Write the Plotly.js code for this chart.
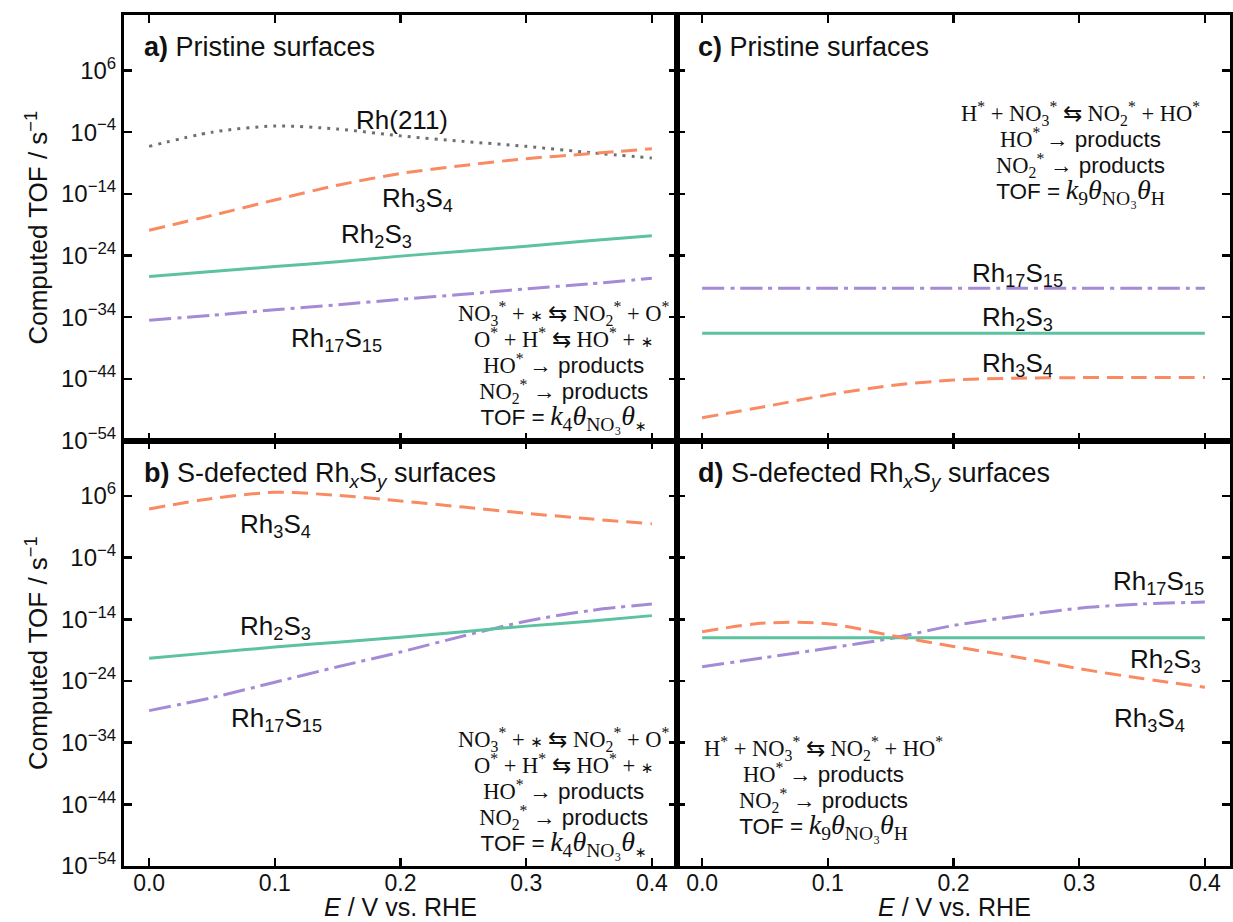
<!DOCTYPE html>
<html>
<head>
<meta charset="utf-8">
<script src="https://cdn.plot.ly/plotly-3.0.1.min.js"></script>
<style>html,body{margin:0;padding:0;background:#fff;}#chart{width:1233px;height:922px;}</style>
</head>
<body>
<div id="chart"></div>
<script>
// ---------- data (log-scale TOF values in s^-1) ----------
const E = [0.00, 0.05, 0.10, 0.15, 0.20, 0.25, 0.30, 0.35, 0.40];

// a) Pristine surfaces, mechanism with k4
const a_Rh211   = [5.0e-7, 1.0e-4, 1.0e-3, 3.2e-4, 2.5e-5, 3.2e-6, 5.0e-7, 5.0e-8, 6.3e-9];
const a_Rh3S4   = [1.26e-20, 3.16e-18, 1.0e-15, 2.51e-13, 2.0e-11, 3.98e-10, 5.0e-9, 3.16e-8, 2.0e-7];
const a_Rh2S3   = [3.98e-28, 2.51e-27, 1.58e-26, 1.0e-25, 7.94e-25, 5.0e-24, 3.16e-23, 2.51e-22, 1.58e-21];
const a_Rh17S15 = [3.16e-35, 2.0e-34, 1.58e-33, 1.0e-32, 7.94e-32, 5.0e-31, 3.98e-30, 2.51e-29, 2.0e-28];

// b) S-defected surfaces, mechanism with k4
const b_Rh3S4   = [7.94e3, 3.98e5, 3.98e6, 1.26e6, 1.58e5, 1.58e4, 1.58e3, 2.0e2, 31.6];
const b_Rh2S3   = [5.0e-21, 3.98e-20, 3.16e-19, 2.0e-18, 1.26e-17, 1.0e-16, 7.94e-16, 5.0e-15, 3.98e-14];
const b_Rh17S15 = [1.58e-29, 2.0e-27, 6.31e-25, 2.0e-22, 5.0e-20, 2.0e-17, 5.0e-15, 2.51e-13, 3.16e-12];

// c) Pristine surfaces, mechanism with k9
const c_Rh17S15 = [5.0e-30, 5.0e-30, 5.0e-30, 5.0e-30, 5.0e-30, 5.0e-30, 5.0e-30, 5.0e-30, 5.0e-30];
const c_Rh2S3   = [2.51e-37, 2.51e-37, 2.51e-37, 2.51e-37, 2.51e-37, 2.51e-37, 2.51e-37, 2.51e-37, 2.51e-37];
const c_Rh3S4   = [5.0e-51, 3.16e-49, 2.51e-47, 7.94e-46, 6.31e-45, 1.26e-44, 1.58e-44, 1.58e-44, 1.58e-44];

// d) S-defected surfaces, mechanism with k9
const d_Rh17S15 = [2.0e-22, 6.31e-21, 2.0e-19, 7.94e-18, 1.0e-15, 3.16e-14, 6.31e-13, 3.16e-12, 6.31e-12];
const d_Rh2S3   = [1.0e-17, 1.0e-17, 1.0e-17, 1.0e-17, 1.0e-17, 1.0e-17, 1.0e-17, 1.0e-17, 1.0e-17];
const d_Rh3S4   = [1.0e-16, 2.51e-15, 2.0e-15, 2.51e-17, 3.98e-19, 7.94e-21, 1.0e-22, 2.51e-24, 1.0e-25];

// ticks
const xTickVals = [0, 0.1, 0.2, 0.3, 0.4];
const xTickText = ['0.0', '0.1', '0.2', '0.3', '0.4'];
const yTickVals = [1e6, 1e-4, 1e-14, 1e-24, 1e-34, 1e-44, 1e-54];
const yTickText = ['10<sup>6</sup>', '10<sup>−4</sup>', '10<sup>−14</sup>', '10<sup>−24</sup>',
                   '10<sup>−34</sup>', '10<sup>−44</sup>', '10<sup>−54</sup>'];

// labels
const panelTitles = ['<b>a)</b> Pristine surfaces',
                     '<b>b)</b> S-defected Rh<sub><i>x</i></sub>S<sub><i>y</i></sub> surfaces',
                     '<b>c)</b> Pristine surfaces',
                     '<b>d)</b> S-defected Rh<sub><i>x</i></sub>S<sub><i>y</i></sub> surfaces'];
const xTitle = '<i>E</i> / V vs. RHE';
const yTitle = 'Computed TOF / s<sup>−1</sup>';
const nameRh211 = 'Rh(211)';
const nameRh3S4 = 'Rh<sub>3</sub>S<sub>4</sub>';
const nameRh2S3 = 'Rh<sub>2</sub>S<sub>3</sub>';
const nameRh17S15 = 'Rh<sub>17</sub>S<sub>15</sub>';
const SANS = 'font-family:Liberation Sans';
const STAR = '<span style="font-family:DejaVu Sans;font-size:15px">∗</span>';
const SUBSTAR = '<span style="font-family:DejaVu Sans;font-size:14px">∗</span>';
const MATH = 'font-size:28px';
const mechK4 = [
  'NO<sub>3</sub><sup>*</sup> + ' + STAR + ' ⇆ NO<sub>2</sub><sup>*</sup> + O<sup>*</sup>',
  'O<sup>*</sup> + H<sup>*</sup> ⇆ HO<sup>*</sup> + ' + STAR,
  'HO<sup>*</sup> <span style="' + SANS + '">→ products</span>',
  'NO<sub>2</sub><sup>*</sup> <span style="' + SANS + '">→ products</span>',
  '<span style="' + SANS + '">TOF =</span> <span style="' + MATH + '"><i>k</i><sub>4</sub><i>θ</i><sub>NO₃</sub><i>θ</i><sub>' + SUBSTAR + '</sub></span>'
];
const mechK9 = [
  'H<sup>*</sup> + NO<sub>3</sub><sup>*</sup> ⇆ NO<sub>2</sub><sup>*</sup> + HO<sup>*</sup>',
  'HO<sup>*</sup> <span style="' + SANS + '">→ products</span>',
  'NO<sub>2</sub><sup>*</sup> <span style="' + SANS + '">→ products</span>',
  '<span style="' + SANS + '">TOF =</span> <span style="' + MATH + '"><i>k</i><sub>9</sub><i>θ</i><sub>NO₃</sub><i>θ</i><sub>H</sub></span>'
];
// one text block per mechanism: base size sets the line pitch, span sets glyph size
function block(lines) {
  return lines.map(function (l) { return '<span style="font-size:22.5px">' + l + '</span>'; }).join('<br>');
}

// ---------- styles ----------
const ORANGE = '#f98a62', GREEN = '#5cc29f', PURPLE = '#a58ad6', GREY = '#6f6f6f';
const st = {
  Rh211:   {color: GREY,   width: 3, dash: '3px,6px'},
  Rh3S4:   {color: ORANGE, width: 3, dash: '16px,8px'},
  Rh2S3:   {color: GREEN,  width: 3},
  Rh17S15: {color: PURPLE, width: 3, dash: '22px,6px,4px,6px'}
};
function tr(y, style, xa, ya) {
  return {x: E, y: y, type: 'scatter', mode: 'lines', xaxis: xa, yaxis: ya,
          line: Object.assign({shape: 'spline', smoothing: 0.8}, style), hoverinfo: 'skip'};
}
const data = [
  tr(a_Rh211, st.Rh211, 'x', 'y'),
  tr(a_Rh17S15, st.Rh17S15, 'x', 'y'),
  tr(a_Rh2S3, st.Rh2S3, 'x', 'y'),
  tr(a_Rh3S4, st.Rh3S4, 'x', 'y'),
  tr(b_Rh17S15, st.Rh17S15, 'x2', 'y2'),
  tr(b_Rh2S3, st.Rh2S3, 'x2', 'y2'),
  tr(b_Rh3S4, st.Rh3S4, 'x2', 'y2'),
  tr(c_Rh17S15, st.Rh17S15, 'x3', 'y3'),
  tr(c_Rh2S3, st.Rh2S3, 'x3', 'y3'),
  tr(c_Rh3S4, st.Rh3S4, 'x3', 'y3'),
  tr(d_Rh17S15, st.Rh17S15, 'x4', 'y4'),
  tr(d_Rh2S3, st.Rh2S3, 'x4', 'y4'),
  tr(d_Rh3S4, st.Rh3S4, 'x4', 'y4')
];

// ---------- layout ----------
const W = 1233, H = 922, ML = 124, MR = 3, MT = 15, MB = 56;
const PW = W - ML - MR, PH = H - MT - MB;
function px(x) { return (x - ML) / PW; }
function py(y) { return (H - MB - y) / PH; }
const SANSFONT = 'Liberation Sans, Arial, sans-serif';

const TICKFONT = {family: SANSFONT, size: 24, color: '#111'};
function xax(dom, anchor, labels) {
  return {domain: dom, anchor: anchor, range: [-0.02, 0.42], tickmode: 'array',
    tickvals: xTickVals, ticktext: xTickText, ticks: 'inside', ticklen: 8, tickwidth: 2.5,
    tickcolor: '#000', showline: true, linewidth: 3, linecolor: '#000', mirror: 'ticks',
    showgrid: false, zeroline: false, showticklabels: labels, tickfont: {family: SANSFONT, size: 23, color: '#111'},
    ticklabelposition: 'outside', ticklabelstandoff: -6, fixedrange: true};
}
function yax(dom, anchor, labels) {
  const o = {domain: dom, anchor: anchor, type: 'log', range: [-54, 15], tickmode: 'array',
    tickvals: yTickVals, ticktext: yTickText, ticks: 'inside', ticklen: 8, tickwidth: 2.5,
    tickcolor: '#000', showline: true, linewidth: 3, linecolor: '#000', mirror: 'ticks',
    showgrid: false, zeroline: false, showticklabels: labels, tickfont: TICKFONT, fixedrange: true};
  if (labels) o.title = {text: yTitle, font: {family: SANSFONT, size: 26, color: '#111'}, standoff: 6};
  return o;
}

const annotations = [];
function ann(text, x, y, opt) {
  annotations.push(Object.assign({text: text, xref: 'paper', yref: 'paper', x: px(x), y: py(y),
    showarrow: false, xanchor: 'center', yanchor: 'middle',
    font: {family: SANSFONT, size: 26, color: '#111'}}, opt || {}));
}
// x axis titles (below the bottom panels)
const XTF = {family: SANSFONT, size: 25, color: '#111'};
ann(xTitle, 400, 922, {yanchor: 'bottom', borderpad: 0, font: XTF});
ann(xTitle, 954, 922, {yanchor: 'bottom', borderpad: 0, font: XTF});
// panel titles
const TFONT = {family: SANSFONT, size: 27, color: '#111'};
ann(panelTitles[0], 142, 47, {xanchor: 'left', font: TFONT});
ann(panelTitles[1], 142, 475, {xanchor: 'left', font: TFONT});
ann(panelTitles[2], 696, 47, {xanchor: 'left', font: TFONT});
ann(panelTitles[3], 696, 475, {xanchor: 'left', font: TFONT});
// curve labels
ann(nameRh211, 402, 120);
ann(nameRh3S4, 417, 199);
ann(nameRh2S3, 376, 236);
ann(nameRh17S15, 336, 339);
ann(nameRh3S4, 275, 525);
ann(nameRh2S3, 275, 627);
ann(nameRh17S15, 276, 719);
ann(nameRh17S15, 1017, 274);
ann(nameRh2S3, 1017, 319);
ann(nameRh3S4, 1017, 364);
ann(nameRh17S15, 1158, 582);
ann(nameRh2S3, 1165, 660);
ann(nameRh3S4, 1149, 719);
// mechanism blocks
const SERIF = {family: 'Liberation Serif, Times New Roman, serif', size: 20, color: '#111'};
ann(block(mechK4), 563, 366, {font: SERIF, align: 'center'});
ann(block(mechK4), 563, 792, {font: SERIF, align: 'center'});
ann(block(mechK9), 1080, 154, {font: SERIF, align: 'center'});
ann(block(mechK9), 823, 788, {font: SERIF, align: 'center'});

const layout = {
  width: W, height: H, margin: {l: ML, r: MR, t: MT, b: MB},
  paper_bgcolor: '#fff', plot_bgcolor: '#fff', showlegend: false,
  font: {family: SANSFONT, size: 24, color: '#111'},
  xaxis: xax([0, 0.5], 'y', false),
  yaxis: yax([0.5, 1], 'x', true),
  xaxis2: xax([0, 0.5], 'y2', true),
  yaxis2: yax([0, 0.5], 'x2', true),
  xaxis3: xax([0.5, 1], 'y3', false),
  yaxis3: yax([0.5, 1], 'x3', false),
  xaxis4: xax([0.5, 1], 'y4', true),
  yaxis4: yax([0, 0.5], 'x4', false),
  annotations: annotations
};

Plotly.newPlot('chart', data, layout, {displayModeBar: false, staticPlot: true});
</script>
</body>
</html>
